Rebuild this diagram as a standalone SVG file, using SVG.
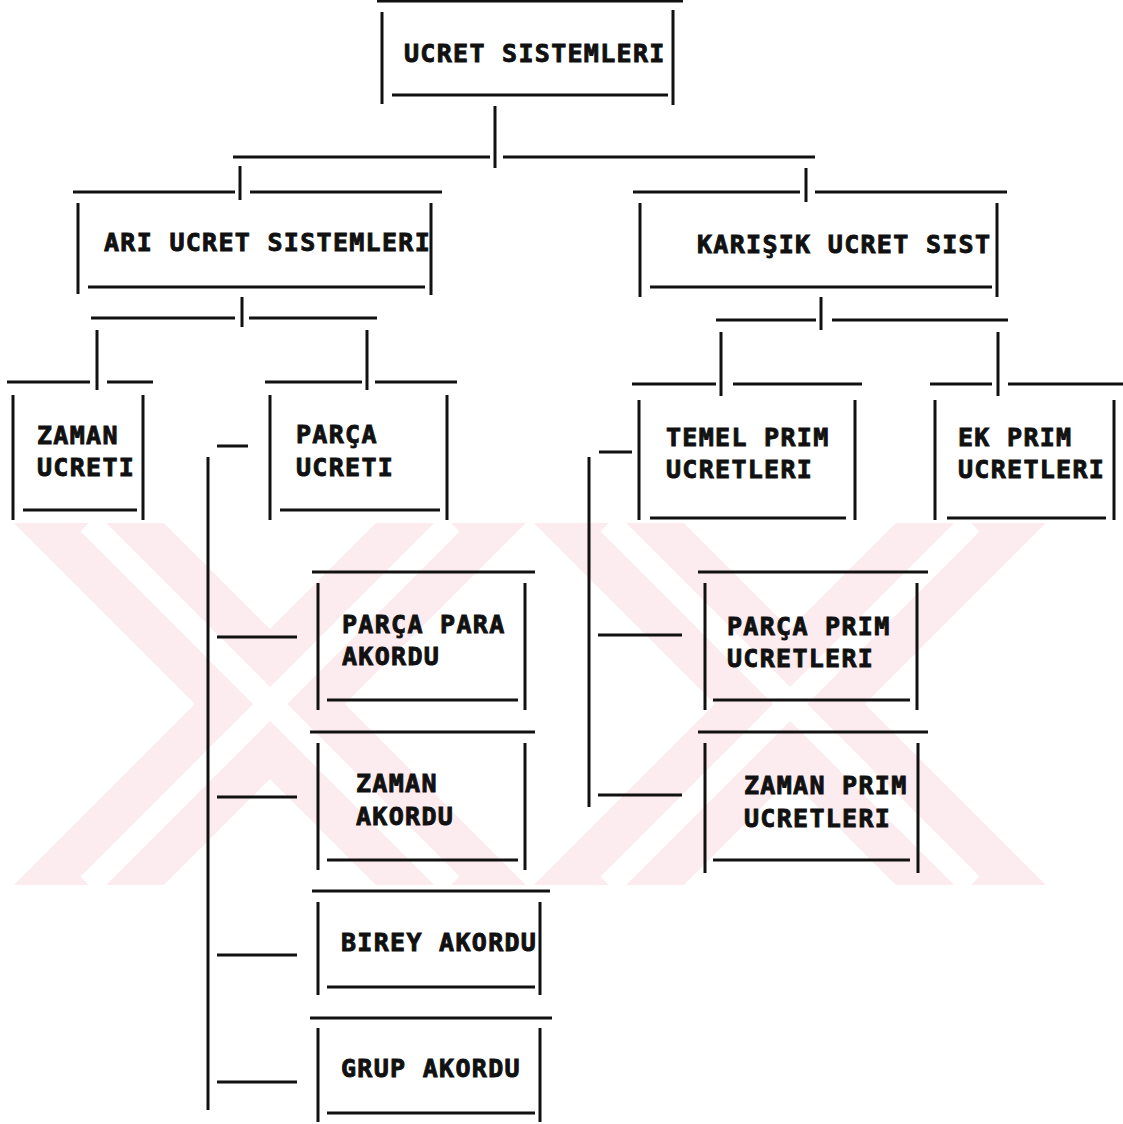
<svg xmlns="http://www.w3.org/2000/svg" width="1123" height="1124" viewBox="0 0 1123 1124">
<defs>
<style>
.ln{stroke:#111;stroke-width:3;fill:none;stroke-linecap:butt}
.t{font-family:"DejaVu Sans Mono","Liberation Mono",monospace;font-weight:bold;font-size:25px;letter-spacing:1.3px;fill:#111;stroke:#111;stroke-width:0.9px}
.wm{fill:#fdecef}
.wg{stroke:#fff;stroke-width:24;fill:none}
</style>
<clipPath id="wmclip"><rect x="0" y="523" width="1123" height="362"/></clipPath>
</defs>
<rect width="1123" height="1124" fill="#fff"/>
<g id="watermark" clip-path="url(#wmclip)">
<polygon class="wm" points="14,523 164,523 526,885 376,885"/>
<polygon class="wm" points="376,523 526,523 164,885 14,885"/>
<polygon class="wm" points="534,523 684,523 1046,885 896,885"/>
<polygon class="wm" points="896,523 1046,523 684,885 534,885"/>
<path class="wg" d="M89 523L451 885M451 523L89 885M609 523L971 885M971 523L609 885"/>
</g>
<g id="connectors" class="ln">
<path d="M495 106V168M233 157H490M503 157H815"/>
<path d="M240 166V200M806 168V202"/>
<path d="M242 297V327M91 318H235M249 318H377M97 330V390M367 330V390"/>
<path d="M821 297V330M716 320H816M832 320H1008M721 332V396M998 332V396"/>
<path d="M217 446H248M208 457V1110M217 637H297M217 797H297M217 955H297M217 1082H297"/>
<path d="M599 452H632M589 457V807M598 635H682M598 795H682"/>
</g>
<g id="n-ucret-sistemleri">
<path class="ln" d="M377 1H683M382 12V104M673 10V105M392 95H668"/>
<text class="t" x="404" y="62">UCRET SISTEMLERI</text>
</g>
<g id="n-ari-ucret">
<path class="ln" d="M73 192H235M250 192H442M78 203V294M431 203V295M88 287H425"/>
<text class="t" x="104" y="251">ARI UCRET SISTEMLERI</text>
</g>
<g id="n-karisik-ucret">
<path class="ln" d="M633 192H800M815 192H1007M640 203V297M997 203V297M650 287H992"/>
<text class="t" x="697" y="253">KARIŞIK UCRET SIST</text>
</g>
<g id="n-zaman-ucreti">
<path class="ln" d="M7 382H90M107 382H153M13 395V520M143 395V520M23 510H137"/>
<text class="t" x="37" y="444">ZAMAN</text>
<text class="t" x="37" y="476">UCRETI</text>
</g>
<g id="n-parca-ucreti">
<path class="ln" d="M265 382H362M375 382H457M270 395V520M447 395V520M280 510H440"/>
<text class="t" x="296" y="443">PARÇA</text>
<text class="t" x="296" y="476">UCRETI</text>
</g>
<g id="n-temel-prim">
<path class="ln" d="M632 384H716M733 384H862M639 400V520M855 400V520M650 518H846"/>
<text class="t" x="666" y="446">TEMEL PRIM</text>
<text class="t" x="666" y="478">UCRETLERI</text>
</g>
<g id="n-ek-prim">
<path class="ln" d="M930 384H992M1008 384H1123M935 400V520M1114 400V520M947 518H1106"/>
<text class="t" x="958" y="446">EK PRIM</text>
<text class="t" x="958" y="478">UCRETLERI</text>
</g>
<g id="n-parca-para-akordu">
<path class="ln" d="M312 572H535M318 583V710M525 583V710M327 700H518"/>
<text class="t" x="342" y="633">PARÇA PARA</text>
<text class="t" x="342" y="665">AKORDU</text>
</g>
<g id="n-zaman-akordu">
<path class="ln" d="M310 732H535M318 743V870M525 743V870M327 860H518"/>
<text class="t" x="356" y="792">ZAMAN</text>
<text class="t" x="356" y="825">AKORDU</text>
</g>
<g id="n-birey-akordu">
<path class="ln" d="M312 891H550M318 902V995M540 902V995M327 987H535"/>
<text class="t" x="341" y="951">BIREY AKORDU</text>
</g>
<g id="n-grup-akordu">
<path class="ln" d="M310 1018H552M318 1028V1122M540 1028V1122M327 1113H535"/>
<text class="t" x="341" y="1077">GRUP AKORDU</text>
</g>
<g id="n-parca-prim">
<path class="ln" d="M698 572H928M705 583V710M917 583V710M713 700H910"/>
<text class="t" x="727" y="635">PARÇA PRIM</text>
<text class="t" x="727" y="667">UCRETLERI</text>
</g>
<g id="n-zaman-prim">
<path class="ln" d="M698 732H928M705 743V873M918 743V873M713 860H910"/>
<text class="t" x="744" y="794">ZAMAN PRIM</text>
<text class="t" x="744" y="827">UCRETLERI</text>
</g>
</svg>
